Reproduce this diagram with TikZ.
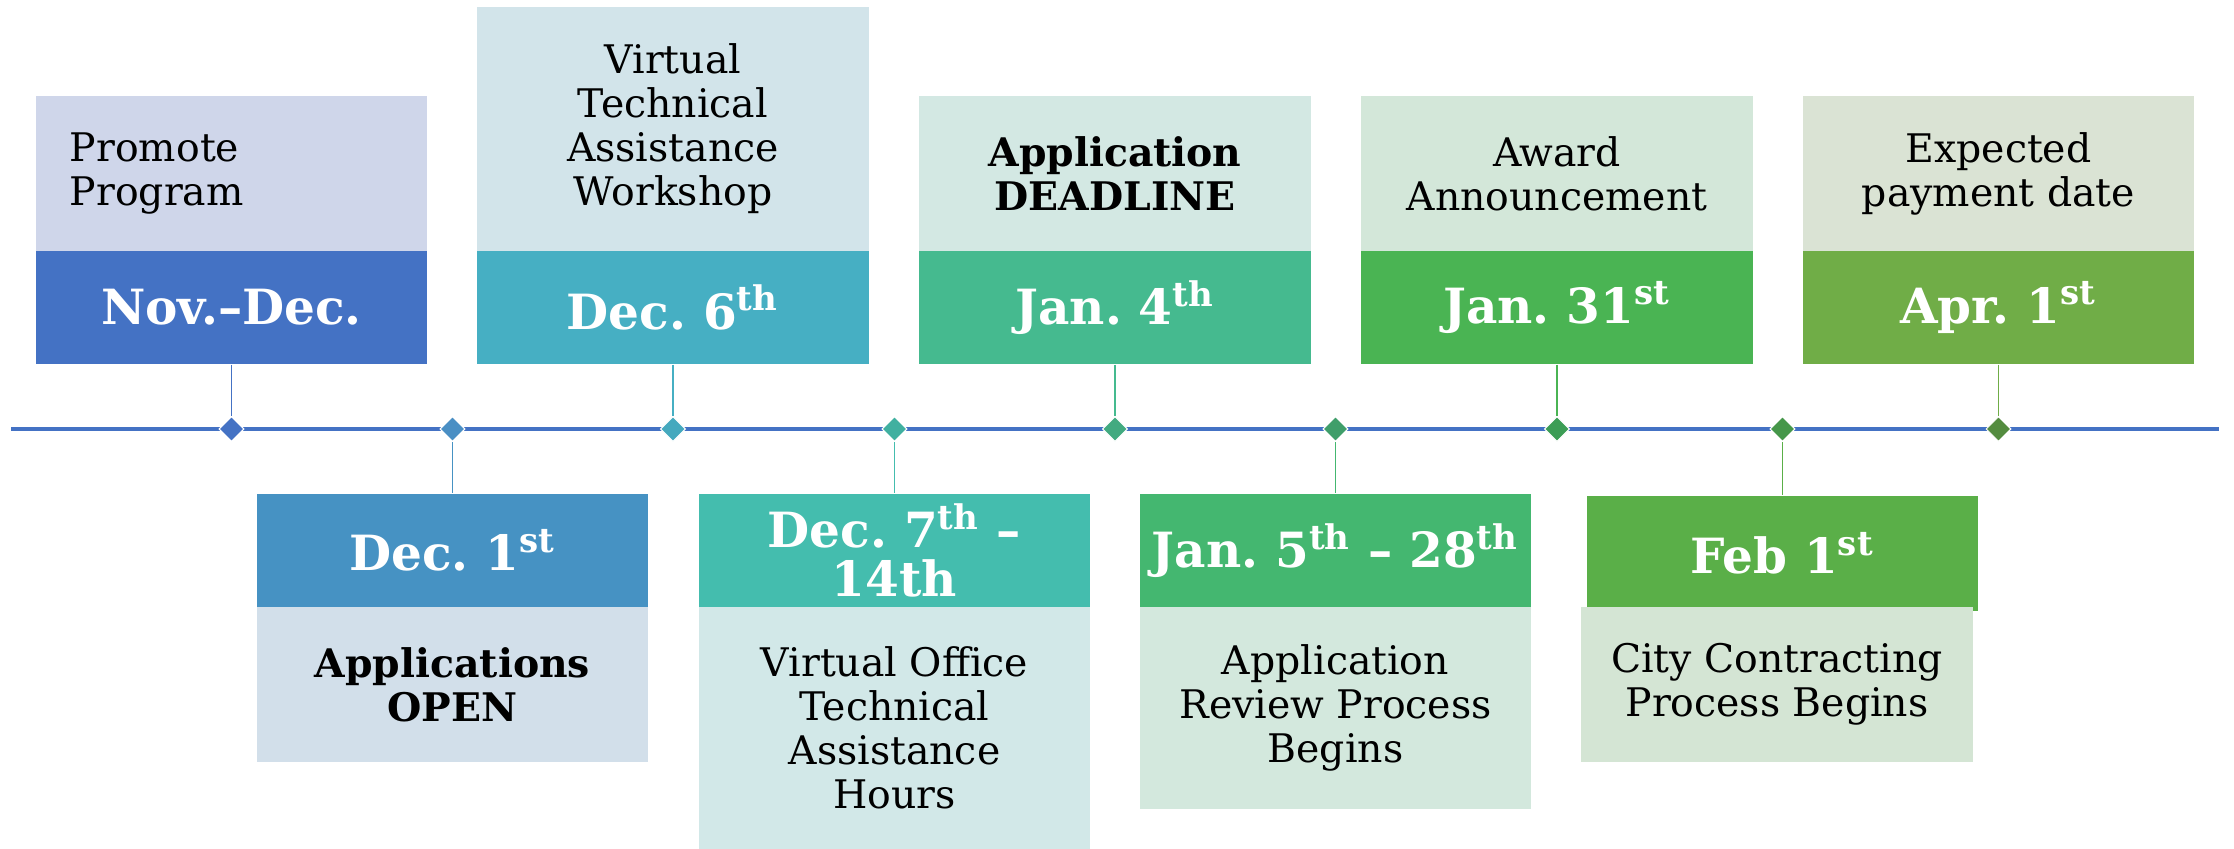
\documentclass[tikz,border=0pt]{standalone}
\usepackage{fontspec}
\setmainfont{DejaVu Serif}
\usepackage{tikz}
\usetikzlibrary{shapes.geometric}
\frenchspacing

\definecolor{blueA}{HTML}{4472C4}
\definecolor{blueB}{HTML}{4692C3}
\definecolor{tealA}{HTML}{46AFC3}
\definecolor{tealB}{HTML}{44BDAE}
\definecolor{jadeA}{HTML}{45BA8F}
\definecolor{jadeB}{HTML}{44B770}
\definecolor{leafA}{HTML}{4AB453}
\definecolor{leafB}{HTML}{5AAF48}
\definecolor{oliveA}{HTML}{70AD47}
\definecolor{paleblueA}{HTML}{CFD6EA}
\definecolor{paleblueB}{HTML}{D2DFEA}
\definecolor{paletealA}{HTML}{D2E4EA}
\definecolor{paletealB}{HTML}{D2E8E8}
\definecolor{palejadeA}{HTML}{D3E8E3}
\definecolor{palejadeB}{HTML}{D3E8DD}
\definecolor{paleleafA}{HTML}{D3E7D9}
\definecolor{paleleafB}{HTML}{D4E5D4}
\definecolor{paleoliveA}{HTML}{DAE3D4}
\definecolor{gem1}{HTML}{4472C4}
\definecolor{gem2}{HTML}{4A8FC4}
\definecolor{gem3}{HTML}{45A9BE}
\definecolor{gem4}{HTML}{40B0A0}
\definecolor{gem5}{HTML}{42AA80}
\definecolor{gem6}{HTML}{3F9E6A}
\definecolor{gem7}{HTML}{3C9D55}
\definecolor{gem8}{HTML}{46974A}
\definecolor{gem9}{HTML}{548C3F}

\newcommand{\datefont}{\fontsize{13.8}{13.8}\selectfont\bfseries}
\newcommand{\notefont}{\fontsize{11.2}{12.5}\selectfont}

\begin{document}
\begin{tikzpicture}[x=0.01cm,y=-0.01cm,
  datebox/.style={rectangle,minimum width=3.91cm,minimum height=1.13cm,inner sep=0pt,align=center,text=white,font=\datefont},
  infobox/.style={rectangle,minimum width=3.91cm,inner sep=0pt,align=center,text=black,font=\notefont},
  gem/.style={diamond,minimum width=0.25cm,minimum height=0.25cm,inner sep=0pt,draw=white,line width=0.3pt},
  stem/.style={line width=0.35pt}]
\useasboundingbox (0,0) rectangle (2234,849);

% timeline
\coordinate (tl-start) at (11,429);
\coordinate (tl-end) at (2219,429);
\draw[blueA,line width=1.1pt] (tl-start) -- (tl-end);

\node[gem,fill=gem1] (m1) at (231.5,429) {};
\node[gem,fill=gem2] (m2) at (452.5,429) {};
\node[gem,fill=gem3] (m3) at (673,429) {};
\node[gem,fill=gem4] (m4) at (894.5,429) {};
\node[gem,fill=gem5] (m5) at (1115,429) {};
\node[gem,fill=gem6] (m6) at (1335.5,429) {};
\node[gem,fill=gem7] (m7) at (1557,429) {};
\node[gem,fill=gem8] (m8) at (1782.5,429) {};
\node[gem,fill=gem9] (m9) at (1998.5,429) {};

% upper row
\node[infobox,fill=paleblueA,minimum height=1.55cm,align=left,text width=3.23cm] (promote) at (231.5,173.5) {Promote\\Program};
\node[datebox,fill=blueA] (novdec) at (231.5,307.5) {Nov.–Dec.};

\node[infobox,fill=paletealA,minimum height=2.44cm] (workshop) at (673,129) {Virtual\\Technical\\Assistance\\Workshop};
\node[datebox,fill=tealA] (dec6) at (673,307.5) {Dec. 6\textsuperscript{th}};

\node[infobox,fill=palejadeA,minimum height=1.55cm,font=\notefont\bfseries] (deadline) at (1115,173.5) {Application\\DEADLINE};
\node[datebox,fill=jadeA] (jan4) at (1115,307.5) {Jan. 4\textsuperscript{th}};

\node[infobox,fill=paleleafA,minimum height=1.55cm] (award) at (1557,173.5) {Award\\Announcement};
\node[datebox,fill=leafA] (jan31) at (1557,307.5) {Jan. 31\textsuperscript{st}};

\node[infobox,fill=paleoliveA,minimum height=1.55cm] (payment) at (1998.5,173.5) {Expected\\payment date};
\node[datebox,fill=oliveA] (apr1) at (1998.5,307.5) {Apr. 1\textsuperscript{st}};

% lower row
\node[datebox,fill=blueB] (dec1) at (452.5,550.5) {Dec. 1\textsuperscript{st}};
\node[infobox,fill=paleblueB,minimum height=1.55cm,font=\notefont\bfseries] (open) at (452.5,684.5) {Applications\\OPEN};

\node[datebox,fill=tealB] (dec7) at (894.5,550.5) {Dec. 7\textsuperscript{th} –\\14th};
\node[infobox,fill=paletealB,minimum height=2.42cm] (office) at (894.5,728) {Virtual Office\\Technical\\Assistance\\Hours};

\node[datebox,fill=jadeB] (jan5) at (1335.5,550.5) {Jan. 5\textsuperscript{th} – 28\textsuperscript{th}};
\node[infobox,fill=palejadeB,minimum height=2.02cm] (review) at (1335.5,708) {Application\\Review Process\\Begins};

\node[datebox,fill=leafB,minimum height=1.15cm] (feb1) at (1782.5,553.5) {Feb 1\textsuperscript{st}};
\node[infobox,fill=paleleafB,minimum height=1.55cm] (contract) at (1777,684.5) {City Contracting\\Process Begins};

% stems
\draw[stem,blueA] (novdec) -- (m1);
\draw[stem,tealA] (dec6) -- (m3);
\draw[stem,jadeA] (jan4) -- (m5);
\draw[stem,leafA] (jan31) -- (m7);
\draw[stem,oliveA] (apr1) -- (m9);
\draw[stem,blueB] (m2) -- (dec1);
\draw[stem,tealB] (m4) -- (dec7);
\draw[stem,jadeB] (m6) -- (jan5);
\draw[stem,leafB] (m8) -- (feb1);
\end{tikzpicture}
\end{document}
